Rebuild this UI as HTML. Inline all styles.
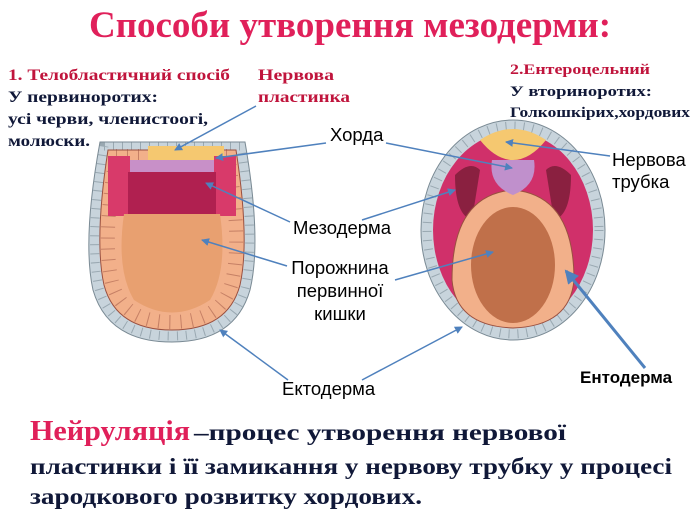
<!DOCTYPE html>
<html><head><meta charset="utf-8"><style>
body{margin:0;width:700px;height:525px;background:#fff;overflow:hidden}
svg{display:block}
.s{font-family:"Liberation Serif",serif;font-weight:bold}
.a{font-family:"Liberation Sans",sans-serif;font-size:18.5px}
</style></head><body>
<svg width="700" height="525" viewBox="0 0 700 525">
<defs>
<marker id="m" markerWidth="8" markerHeight="8" refX="7" refY="4" orient="auto" markerUnits="userSpaceOnUse"><path d="M0,0L8,4L0,8z" fill="#4f81bd"/></marker>
<marker id="m2" markerWidth="14" markerHeight="14" refX="12" refY="7" orient="auto" markerUnits="userSpaceOnUse"><path d="M0,0L14,7L0,14z" fill="#4f81bd"/></marker>
</defs>
<text x="350" y="37" text-anchor="middle" class="s" font-size="37" fill="#e0205a">Способи утворення мезодерми:</text>
<g class="s" font-size="16" fill="#101838">
<text x="8" y="80" fill="#c0143c" textLength="222" lengthAdjust="spacingAndGlyphs">1. Телобластичний спосіб</text>
<text x="8" y="102" textLength="150" lengthAdjust="spacingAndGlyphs">У первиноротих:</text>
<text x="8" y="124" textLength="200" lengthAdjust="spacingAndGlyphs">усі черви, членистоогі,</text>
<text x="8" y="146" textLength="82" lengthAdjust="spacingAndGlyphs">молюски.</text>
<text x="258" y="80" fill="#c0143c" textLength="76" lengthAdjust="spacingAndGlyphs">Нервова</text>
<text x="258" y="102" fill="#c0143c" textLength="92" lengthAdjust="spacingAndGlyphs">пластинка</text>
<text x="510" y="74" fill="#c0143c" font-size="15" textLength="140" lengthAdjust="spacingAndGlyphs">2.Ентероцельний</text>
<text x="510" y="96" font-size="15" textLength="142" lengthAdjust="spacingAndGlyphs">У вториноротих:</text>
<text x="510" y="117" font-size="15" textLength="180" lengthAdjust="spacingAndGlyphs">Голкошкірих,хордових</text>
</g>
<!-- left embryo -->
<path d="M100,142 L245,142 Q262,240 250,290 Q235,342 172,342 Q108,342 93,290 Q82,240 100,142Z" fill="#c8d4dc" stroke="#7a8a94"/>
<path d="M104,146 L241,146 Q256,240 245,288 Q232,336 172,336 Q112,336 99,288 Q88,240 104,146Z" fill="none" stroke="#7a8a94" stroke-width="9" stroke-dasharray="1 8" opacity="0.6"/>
<path d="M108,150 L236,150 Q250,240 240,285 Q228,330 172,330 Q116,330 104,285 Q94,240 108,150Z" fill="#f2b08a" stroke="#9a5040"/>
<path d="M116,156 L228,156 Q242,240 232,282 Q222,322 172,322 Q122,322 112,282 Q102,240 116,156Z" fill="none" stroke="#9a5040" stroke-width="14" stroke-dasharray="1 10" opacity="0.5"/>
<rect x="148" y="146" width="76" height="14" fill="#f5c870"/>
<rect x="108" y="156" width="22" height="60" fill="#d83a6a"/>
<rect x="214" y="156" width="22" height="60" fill="#d83a6a"/>
<rect x="130" y="160" width="84" height="14" fill="#c890c8"/>
<rect x="128" y="172" width="88" height="42" fill="#b02050"/>
<path d="M124,214 L220,214 Q228,270 210,300 Q172,325 134,300 Q116,270 124,214Z" fill="#e8a070"/>
<!-- right embryo -->
<ellipse cx="513" cy="230" rx="92" ry="110" fill="#c8d4dc" stroke="#7a8a94"/>
<ellipse cx="513" cy="230" rx="86" ry="104" fill="none" stroke="#7a8a94" stroke-width="9" stroke-dasharray="1 8" opacity="0.6"/>
<ellipse cx="513" cy="230" rx="80" ry="98" fill="#d0306a"/>
<path d="M455,175 Q470,160 480,170 L472,220 Q455,215 455,175Z" fill="#8a2040"/>
<path d="M571,175 Q556,160 546,170 L554,220 Q571,215 571,175Z" fill="#8a2040"/>
<path d="M452,280 Q452,195 513,190 Q574,195 574,280 Q570,326 513,328 Q456,326 452,280Z" fill="#f2b08a" stroke="#9a5040"/>
<ellipse cx="513" cy="265" rx="42" ry="58" fill="#c0704a"/>
<path d="M480,140 Q513,118 546,140 Q530,160 513,160 Q496,160 480,140Z" fill="#f5c870"/>
<path d="M492,160 L534,160 Q538,185 513,195 Q488,185 492,160Z" fill="#c090cc"/>
<!-- arrows -->
<g stroke="#4f81bd" stroke-width="1.5" fill="none" marker-end="url(#m)">
<line x1="256" y1="106" x2="175" y2="150"/>
<line x1="326" y1="143" x2="216" y2="158"/>
<line x1="386" y1="143" x2="512" y2="168"/>
<line x1="290" y1="222" x2="206" y2="183"/>
<line x1="362" y1="220" x2="455" y2="190"/>
<line x1="287" y1="266" x2="202" y2="240"/>
<line x1="395" y1="280" x2="493" y2="252"/>
<line x1="288" y1="380" x2="220" y2="330"/>
<line x1="362" y1="380" x2="462" y2="327"/>
<line x1="610" y1="156" x2="506" y2="142"/>
</g>
<line x1="645" y1="368" x2="566" y2="271" stroke="#4f81bd" stroke-width="3" marker-end="url(#m2)"/>
<g class="a">
<text x="330" y="141">Хорда</text>
<text x="612" y="166">Нервова</text>
<text x="612" y="188">трубка</text>
<text x="293" y="234">Мезодерма</text>
<text x="340" y="274" text-anchor="middle">Порожнина</text>
<text x="340" y="297" text-anchor="middle">первинної</text>
<text x="340" y="320" text-anchor="middle">кишки</text>
<text x="282" y="395">Ектодерма</text>
<text x="580" y="383" font-weight="bold" font-size="17">Ентодерма</text>
</g>
<g class="s" fill="#101838">
<text x="30" y="440" font-size="28" fill="#e0205a" textLength="160" lengthAdjust="spacingAndGlyphs">Нейруляція</text>
<text x="194" y="440" font-size="23" textLength="372" lengthAdjust="spacingAndGlyphs">–процес утворення нервової</text>
<text x="30" y="474" font-size="23" textLength="642" lengthAdjust="spacingAndGlyphs">пластинки і її замикання у нервову трубку у процесі</text>
<text x="30" y="504" font-size="23" textLength="392" lengthAdjust="spacingAndGlyphs">зародкового розвитку хордових.</text>
</g>
</svg>
</body></html>
